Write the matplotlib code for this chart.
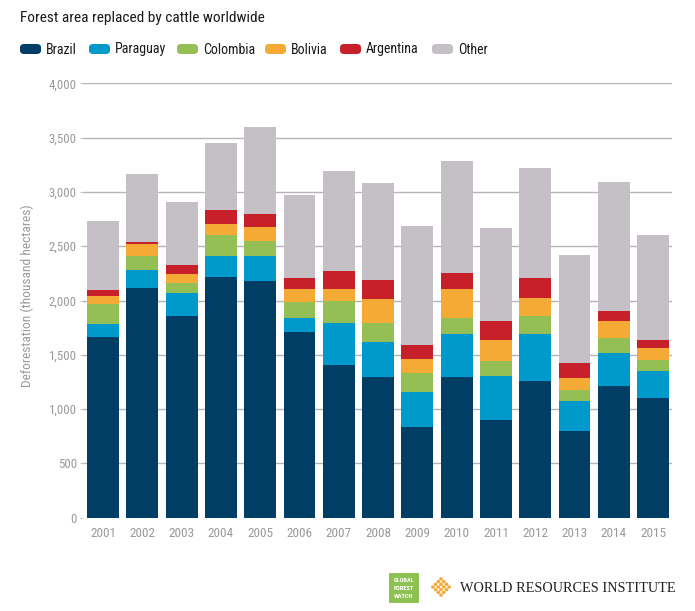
import matplotlib
matplotlib.use("Agg")
import matplotlib.pyplot as plt
from matplotlib.patches import FancyBboxPatch, Rectangle, Circle
import numpy as np

plt.rcParams['font.family'] = ['Roboto Condensed', 'Barlow Semi Condensed',
                               'Asap Condensed', 'Roboto', 'DejaVu Sans']

years = ["2001", "2002", "2003", "2004", "2005", "2006", "2007", "2008",
         "2009", "2010", "2011", "2012", "2013", "2014", "2015"]
brazil    = [1668, 2118, 1857, 2216, 2179, 1714, 1410, 1291, 834, 1297, 901, 1257, 797, 1211, 1103]
paraguay  = [119, 160, 212, 190, 227, 129, 380, 327, 322, 398, 405, 438, 282, 306, 249]
colombia  = [178, 135, 92, 194, 145, 143, 209, 175, 181, 144, 141, 162, 95, 138, 101]
bolivia   = [80, 104, 86, 107, 128, 123, 107, 218, 125, 270, 187, 163, 108, 160, 107]
argentina = [49, 21, 79, 122, 116, 98, 165, 181, 126, 147, 175, 184, 140, 86, 74]
other     = [637, 630, 577, 624, 806, 763, 923, 886, 1101, 1030, 858, 1018, 994, 1192, 972]

series_names = ["Brazil", "Paraguay", "Colombia", "Bolivia", "Argentina", "Other"]
series_vals = [brazil, paraguay, colombia, bolivia, argentina, other]
colors = ["#003e66", "#0099cc", "#93bf55", "#f4aa35", "#c8202a", "#c4c0c6"]
yticks = [0, 500, 1000, 1500, 2000, 2500, 3000, 3500, 4000]

W, H = 695, 611
fig = plt.figure(figsize=(W / 100, H / 100), dpi=100)
ax = fig.add_axes([83 / W, 1 - 517.7 / H, (672 - 83) / W, (517.7 - 83.3) / H])

gray = "#9a9a9a"
x = np.arange(len(years))
bottom = np.zeros(len(years))
for name, vals, c in zip(series_names, series_vals, colors):
    ax.bar(x, vals, bottom=bottom, width=0.81, color=c, zorder=3, linewidth=0)
    bottom += np.array(vals)

for t in yticks[1:]:
    ax.axhline(t, color="#b5b5b5", lw=1.0, zorder=1)

ax.set_xlim(-0.51, 14.48)
ax.set_ylim(0, 4000)
ax.set_xticks(x)
ax.set_xticklabels(years)
ax.set_yticks(yticks)
ax.set_yticklabels([f"{t:,}" for t in yticks])
ax.tick_params(axis='x', length=0, pad=7, labelsize=9.5, labelcolor=gray)
ax.tick_params(axis='y', length=2.5, width=0.8, color="#c8c8c8", pad=2,
               labelsize=9.3, labelcolor=gray)
for s in ax.spines.values():
    s.set_visible(False)
ax.set_ylabel("Deforestation (thousand hectares)", color=gray, fontsize=9.7)
ax.yaxis.set_label_coords((34 - 83) / (672 - 83), (517.7 - 296) / (517.7 - 83.3))

# Title
fig.text(20 / W, 1 - 18 / H, "Forest area replaced by cattle worldwide",
         fontsize=11.1, color="#1a1a1a", ha="left", va="center")

# Legend
patch_x = [20, 89, 177, 265, 340, 432]
for px, name, c in zip(patch_x, series_names, colors):
    fig.patches.append(FancyBboxPatch((px / W, 1 - 54 / H), 21 / W, 10 / H,
                                      boxstyle="round,pad=0,rounding_size=0.006",
                                      transform=fig.transFigure, facecolor=c,
                                      edgecolor="none"))
    fig.text((px + 26) / W, 1 - 49.5 / H, name, fontsize=10, color="#1a1a1a",
             ha="left", va="center")

# Global Forest Watch logo
fig.patches.append(Rectangle((389 / W, 1 - 603 / H), 30 / W, 30 / H,
                             transform=fig.transFigure, facecolor="#8dc152",
                             edgecolor="none"))
for i, word in enumerate(["GLOBAL", "FOREST", "WATCH"]):
    fig.text(404 / W, 1 - (580 + i * 8) / H, word, fontsize=4.6, color="white",
             ha="center", va="center", fontweight="bold")

# WRI logo mark (diamond lattice of dots)
cx, cy = 441, 587
for i in range(-3, 4):
    for j in range(-3, 4):
        if abs(i) + abs(j) <= 3 and (i + j) % 2 == 1:
            fig.patches.append(Circle(((cx + i * 2.7) / W, 1 - (cy + j * 2.7) / H),
                                      1.9 / W, transform=fig.transFigure,
                                      facecolor="#f3a93a", edgecolor="none"))
fig.text(460 / W, 1 - 588 / H, "WORLD RESOURCES INSTITUTE", fontsize=10.3,
         family="Liberation Serif", color="#222222", ha="left", va="center")

fig.savefig("out.png", dpi=100, facecolor="white")
